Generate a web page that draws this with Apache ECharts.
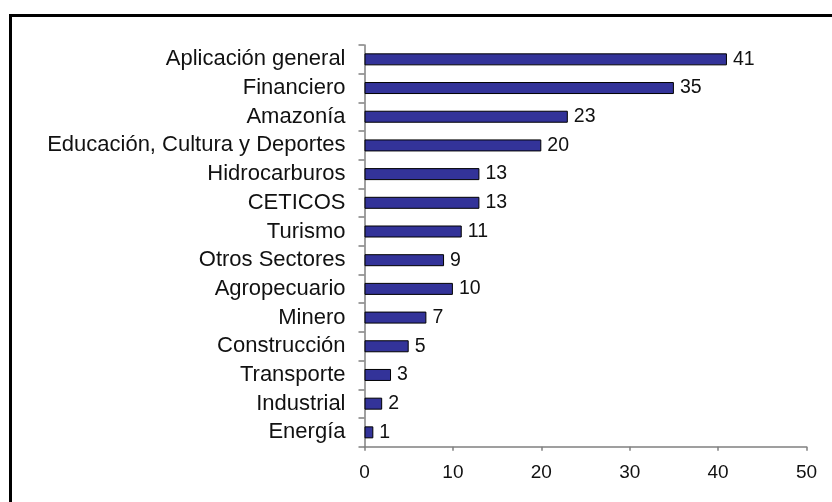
<!DOCTYPE html>
<html>
<head>
<meta charset="utf-8">
<script src="https://cdn.jsdelivr.net/npm/echarts@6/dist/echarts.min.js"></script>
<style>
  html, body { margin: 0; padding: 0; background: #fff; }
  #chart { position: absolute; left: 0; top: 0; width: 832px; height: 502px; }
  #frame { position: absolute; left: 9px; top: 14px; width: 820px; height: 520px;
           border: 3px solid #000; pointer-events: none; }
</style>
</head>
<body>
<div id="chart"></div>
<div id="frame"></div>
<script>
// Sectors, listed top to bottom
const sectors = [
  'Aplicación general', 'Financiero', 'Amazonía', 'Educación, Cultura y Deportes',
  'Hidrocarburos', 'CETICOS', 'Turismo', 'Otros Sectores', 'Agropecuario',
  'Minero', 'Construcción', 'Transporte', 'Industrial', 'Energía'
];
const counts = [41, 35, 23, 20, 13, 13, 11, 9, 10, 7, 5, 3, 2, 1];
const xTicks = [0, 10, 20, 30, 40, 50];

const font = 'Liberation Sans, Arial, sans-serif';
const chart = echarts.init(document.getElementById('chart'));
chart.setOption({
  animation: false,
  grid: { left: 364.5, right: 25.5, top: 45, bottom: 55.3, containLabel: false },
  xAxis: {
    type: 'value',
    min: xTicks[0], max: xTicks[xTicks.length - 1], interval: 10,
    axisLine: { show: true, lineStyle: { color: '#808080', width: 1.5 } },
    axisTick: { show: true, length: 4, lineStyle: { color: '#808080', width: 1.5 } },
    splitLine: { show: false },
    axisLabel: { color: '#111', fontSize: 19, fontFamily: font, margin: 17 }
  },
  yAxis: {
    type: 'category',
    inverse: true,
    data: sectors,
    axisLine: { show: true, lineStyle: { color: '#808080', width: 1.5 } },
    axisTick: { show: true, length: 6, lineStyle: { color: '#808080', width: 1.5 } },
    axisLabel: { color: '#111', fontSize: 22, fontFamily: font, margin: 19 }
  },
  series: [{
    type: 'bar',
    data: counts,
    barWidth: 12,
    itemStyle: { color: '#333399', borderColor: '#000', borderWidth: 1 },
    label: {
      show: true, position: 'right', distance: 6,
      color: '#111', fontSize: 19.5, fontFamily: font
    }
  }]
});
</script>
</body>
</html>
